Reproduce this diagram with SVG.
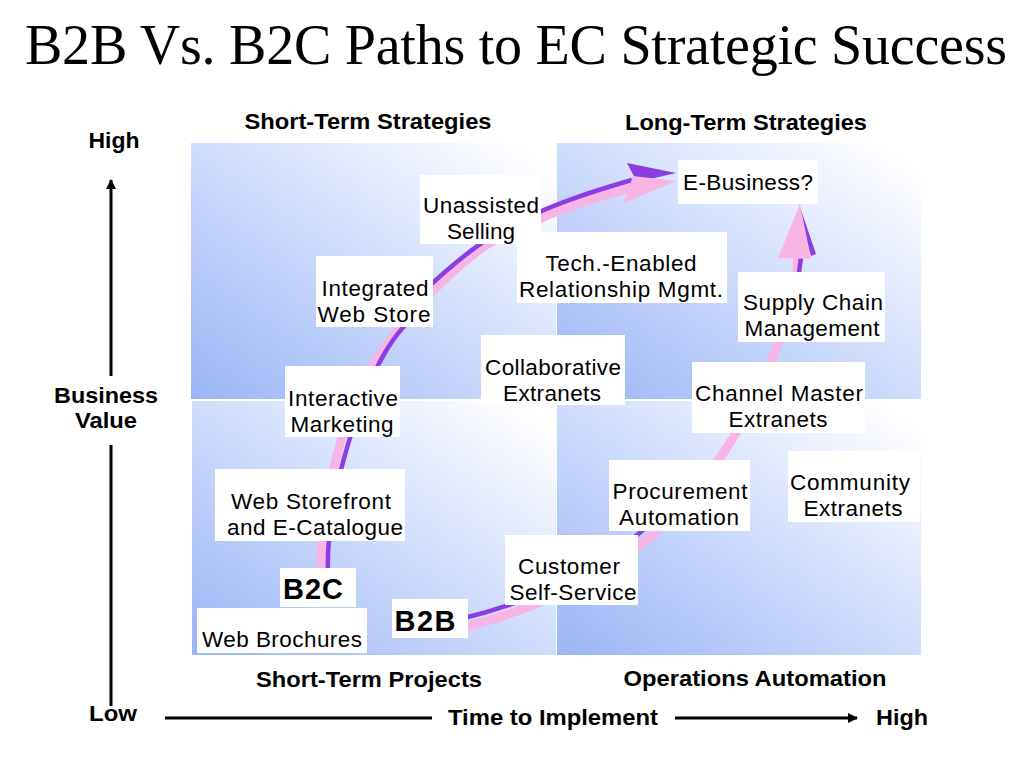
<svg xmlns="http://www.w3.org/2000/svg" width="1033" height="766" viewBox="0 0 1033 766">
<style>
.lbl{font-family:"Liberation Sans",Arial,sans-serif;font-size:22.5px;fill:#000;text-anchor:middle}
.hd{font-family:"Liberation Sans",Arial,sans-serif;font-size:22.5px;font-weight:bold;fill:#000;text-anchor:middle}
.big{font-family:"Liberation Sans",Arial,sans-serif;font-size:29px;font-weight:bold;fill:#000;text-anchor:middle}
.box{fill:#fff}
.pink{fill:none;stroke:#f7b4e4;stroke-width:9}
.purp{fill:none;stroke:#8b3de0;stroke-width:4.5}
.axis{stroke:#000;stroke-width:3;fill:none}
</style>
<defs>
<linearGradient id="q" x1="0" y1="1" x2="1" y2="0">
<stop offset="0" stop-color="#9ab5f6"/>
<stop offset="0.95" stop-color="#ffffff"/>
</linearGradient>
<marker id="ah" viewBox="0 0 10 10" refX="9" refY="5" markerWidth="3.5" markerHeight="3.5" orient="auto" markerUnits="strokeWidth">
<path d="M0,0 L10,5 L0,10 z" fill="#000"/>
</marker>
</defs>
<rect width="1033" height="766" fill="#fff"/>
<text x="25" y="64" textLength="982" style="font-family:'Liberation Serif','Times New Roman',serif;font-size:56px;fill:#000">B2B Vs. B2C Paths to EC Strategic Success</text>

<g id="quadrants">
<rect x="191" y="143" width="365" height="256" fill="url(#q)"/>
<rect x="557" y="143" width="364" height="256" fill="url(#q)"/>
<rect x="192" y="401" width="364" height="254" fill="url(#q)"/>
<rect x="557" y="401" width="364" height="254" fill="url(#q)"/>
</g>

<g id="axes">
<line class="axis" x1="111" y1="376" x2="111" y2="180" marker-end="url(#ah)"/>
<line class="axis" x1="111" y1="445" x2="111" y2="706"/>
<line class="axis" x1="165" y1="718" x2="432" y2="718"/>
<line class="axis" x1="675" y1="718" x2="857" y2="718" marker-end="url(#ah)"/>
<text class="hd" x="114" y="148" textLength="51" lengthAdjust="spacingAndGlyphs">High</text>
<text class="hd" x="106" y="403" textLength="104" lengthAdjust="spacingAndGlyphs">Business</text>
<text class="hd" x="106" y="428" textLength="62" lengthAdjust="spacingAndGlyphs">Value</text>
<text class="hd" x="113" y="721" textLength="48" lengthAdjust="spacingAndGlyphs">Low</text>
<text class="hd" x="553" y="725" textLength="210" lengthAdjust="spacingAndGlyphs">Time to Implement</text>
<text class="hd" x="902" y="725" textLength="52" lengthAdjust="spacingAndGlyphs">High</text>
<text class="hd" x="368" y="129" textLength="247" lengthAdjust="spacingAndGlyphs">Short-Term Strategies</text>
<text class="hd" x="746" y="130" textLength="242" lengthAdjust="spacingAndGlyphs">Long-Term Strategies</text>
<text class="hd" x="369" y="687" textLength="226" lengthAdjust="spacingAndGlyphs">Short-Term Projects</text>
<text class="hd" x="755" y="686" textLength="263" lengthAdjust="spacingAndGlyphs">Operations Automation</text>
</g>

<g id="connectors">
<g id="b2c-path">
<path class="pink" d="M321,575 C320,520 333,460 354,400 C380,345 428,288 484,246 C530,220 580,200 632,188"/>
<path class="purp" d="M328,575 C326,520 341,460 362,402 C380,355 395,335 410,320"/>
<path class="purp" d="M425,290 C455,262 480,242 505,228 C550,205 590,192 632,180"/>
<polygon points="627,163 676,173 637,182" fill="#8b3de0"/>
<polygon points="633,176 676,181 624,203" fill="#f7b4e4"/>
</g>
<g id="b2b-path">
<path class="pink" d="M460,628 C520,614 580,590 640,545 C700,500 750,420 775,352 C790,312 797,285 798,258"/>
<path class="purp" d="M460,619 C515,606 570,585 628,542 C640,533 648,526 655,520"/>
<path class="purp" d="M799,272 C800,265 801,258 802,250"/>
<polygon points="799,204 816,254 811,256 800,216" fill="#8b3de0"/>
<polygon points="778,258 800,204 811,259" fill="#f7b4e4"/>
</g>
</g>

<g id="unassisted"><rect class="box" x="420" y="175" width="121" height="69"/>
<text class="lbl" x="481" y="213" textLength="116">Unassisted</text><text class="lbl" x="481" y="239" textLength="68">Selling</text></g>
<g id="integrated"><rect class="box" x="316" y="256" width="117" height="71"/>
<text class="lbl" x="375" y="296" textLength="107">Integrated</text><text class="lbl" x="374" y="322" textLength="113">Web Store</text></g>
<g id="interactive"><rect class="box" x="285" y="366" width="115" height="71"/>
<text class="lbl" x="343" y="406" textLength="110">Interactive</text><text class="lbl" x="342" y="432" textLength="103">Marketing</text></g>
<g id="collaborative"><rect class="box" x="481" y="335" width="144" height="70"/>
<text class="lbl" x="553" y="375" textLength="136">Collaborative</text><text class="lbl" x="552" y="401" textLength="98">Extranets</text></g>
<g id="tech"><rect class="box" x="517" y="232" width="210" height="71"/>
<text class="lbl" x="621" y="271" textLength="151">Tech.-Enabled</text><text class="lbl" x="621" y="297" textLength="204">Relationship  Mgmt.</text></g>
<g id="ebusiness"><rect class="box" x="678" y="160" width="140" height="44"/>
<text class="lbl" x="748" y="190" textLength="130">E-Business?</text></g>
<g id="supply"><rect class="box" x="738" y="272" width="147" height="70"/>
<text class="lbl" x="813" y="310" textLength="140">Supply Chain</text><text class="lbl" x="812" y="336" textLength="135">Management</text></g>
<g id="channel"><rect class="box" x="692" y="362" width="173" height="71"/>
<text class="lbl" x="779" y="401" textLength="168">Channel Master</text><text class="lbl" x="778" y="427" textLength="99">Extranets</text></g>
<g id="procurement"><rect class="box" x="609" y="460" width="141" height="71"/>
<text class="lbl" x="680" y="499" textLength="135">Procurement</text><text class="lbl" x="679" y="525" textLength="120">Automation</text></g>
<g id="community"><rect class="box" x="788" y="451" width="132" height="71"/>
<text class="lbl" x="850" y="490" textLength="120">Community</text><text class="lbl" x="853" y="516" textLength="99">Extranets</text></g>
<g id="customer"><rect class="box" x="505" y="535" width="133" height="70"/>
<text class="lbl" x="569" y="574" textLength="102">Customer</text><text class="lbl" x="573" y="600" textLength="127">Self-Service</text></g>
<g id="storefront"><rect class="box" x="215" y="469" width="190" height="72"/>
<text class="lbl" x="311" y="509" textLength="160">Web Storefront</text><text class="lbl" x="315" y="535" textLength="176">and E-Catalogue</text></g>
<g id="b2c"><rect class="box" x="280" y="568" width="76" height="39"/>
<text class="big" x="313" y="599" textLength="60">B2C</text></g>
<g id="b2b"><rect class="box" x="392" y="599" width="76" height="39"/>
<text class="big" x="425" y="631" textLength="61">B2B</text></g>
<g id="brochures"><rect class="box" x="197" y="608" width="170" height="45"/>
<text class="lbl" x="282" y="647" textLength="160">Web Brochures</text></g>
</svg>
